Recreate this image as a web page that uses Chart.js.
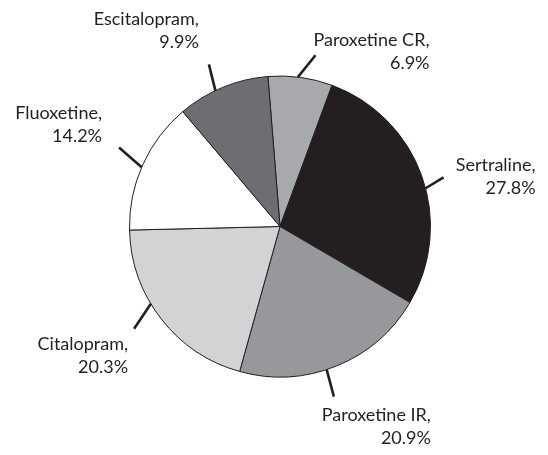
<!DOCTYPE html>
<html>
<head>
<meta charset="utf-8">
<script src="https://cdn.jsdelivr.net/npm/chart.js@4/dist/chart.umd.min.js"></script>
<style>
  html, body { margin: 0; padding: 0; background: #fff; }
  #wrap { width: 548px; height: 455px; position: relative; }
</style>
</head>
<body>
<div id="wrap"><canvas id="chart"></canvas></div>
<script>
// data, clockwise from just left of 12 o'clock
const drugs = ["Paroxetine CR", "Sertraline", "Paroxetine IR", "Citalopram", "Fluoxetine", "Escitalopram"];
const shares = [6.9, 27.8, 20.9, 20.3, 14.2, 9.9];
const fills = ["#a7a9ac", "#231f20", "#97989b", "#d1d3d4", "#ffffff", "#6d6e71"];

// leader line + label placement (angle offset on slice in deg, line direction in deg, line length,
// then text right edge / first line centre relative to the line end)
const callouts = [
  { da: -1, dir: -51, len: 28, tx: 114, ty: -15 },
  { da: 5, dir: -31, len: 21, tx: 92, ty: -12 },
  { da: 4, dir: 75, len: 28, tx: 97, ty: 19 },
  { da: 7, dir: 124, len: 30, tx: -6, ty: 16 },
  { da: -1, dir: -139, len: 30, tx: -17, ty: -34 },
  { da: -3, dir: -104, len: 27, tx: -10, ty: -45 }
];

const ink = "#231f20";
const fontSize = 18;
const lineGap = 22.5;

const calloutPlugin = {
  id: "callouts",
  afterDraw(chart) {
    const ctx = chart.ctx;
    const meta = chart.getDatasetMeta(0);
    ctx.save();
    ctx.strokeStyle = ink;
    ctx.fillStyle = ink;
    ctx.lineWidth = 2.6;
    ctx.font = fontSize + "px Lato, 'Open Sans', sans-serif";
    ctx.textAlign = "right";
    ctx.textBaseline = "middle";
    meta.data.forEach((arc, i) => {
      const p = arc.getProps(["x", "y", "startAngle", "endAngle", "outerRadius"], true);
      const c = callouts[i];
      const mid = (p.startAngle + p.endAngle) / 2 + c.da * Math.PI / 180;
      const sx = p.x + Math.cos(mid) * p.outerRadius;
      const sy = p.y + Math.sin(mid) * p.outerRadius;
      const d = c.dir * Math.PI / 180;
      const ex = sx + Math.cos(d) * c.len;
      const ey = sy + Math.sin(d) * c.len;
      ctx.beginPath();
      ctx.moveTo(sx, sy);
      ctx.lineTo(ex, ey);
      ctx.stroke();
      ctx.fillText(drugs[i] + ",", ex + c.tx, ey + c.ty);
      ctx.fillText(shares[i] + "%", ex + c.tx, ey + c.ty + lineGap);
    });
    ctx.restore();
  }
};

new Chart(document.getElementById("chart"), {
  type: "pie",
  data: {
    labels: drugs,
    datasets: [{
      data: shares,
      backgroundColor: fills,
      borderColor: ink,
      borderWidth: 1
    }]
  },
  options: {
    responsive: true,
    maintainAspectRatio: false,
    animation: false,
    rotation: -4.6,
    layout: { padding: { left: 129, right: 117, top: 75, bottom: 77 } },
    plugins: {
      legend: { display: false },
      tooltip: { enabled: false }
    }
  },
  plugins: [calloutPlugin]
});
</script>
</body>
</html>
